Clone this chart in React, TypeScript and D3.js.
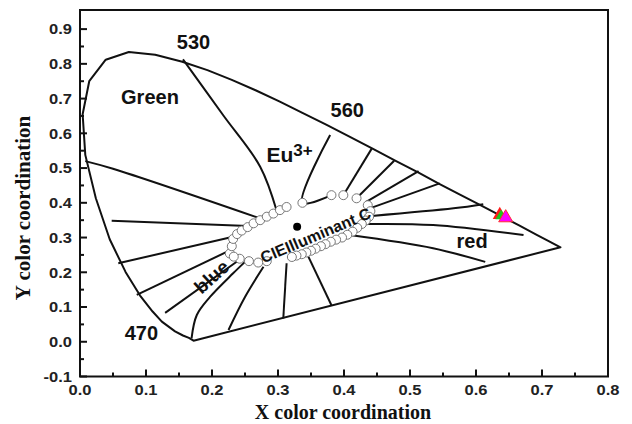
import React, { useEffect, useRef } from 'react';
import * as d3 from 'd3';

// spectral locus (closed by the purple line)
const locusX = [0.172, 0.165, 0.156, 0.144, 0.124, 0.110, 0.091, 0.069, 0.045, 0.024, 0.008, 0.004, 0.014, 0.039, 0.074, 0.114, 0.155, 0.193, 0.230, 0.266, 0.302, 0.337, 0.373, 0.409, 0.444, 0.479, 0.513, 0.545, 0.575, 0.603, 0.627, 0.666, 0.692, 0.708, 0.728];
const locusY = [0.003, 0.011, 0.018, 0.030, 0.058, 0.087, 0.133, 0.201, 0.295, 0.413, 0.538, 0.655, 0.750, 0.812, 0.834, 0.826, 0.806, 0.782, 0.754, 0.724, 0.692, 0.659, 0.625, 0.590, 0.555, 0.520, 0.487, 0.454, 0.424, 0.397, 0.373, 0.334, 0.308, 0.292, 0.272];

// dominant wavelength lines, each is a list of [x, y]
const rayLines: [number, number][][] = [
  [[0.156, 0.813], [0.217, 0.652], [0.273, 0.504], [0.298, 0.377]],
  [[0.379, 0.595], [0.337, 0.400], [0.381, 0.422]],
  [[0.442, 0.556], [0.399, 0.422]],
  [[0.476, 0.521], [0.419, 0.413]],
  [[0.513, 0.491], [0.433, 0.402]],
  [[0.545, 0.456], [0.439, 0.384]],
  [[0.442, 0.362], [0.566, 0.384], [0.611, 0.396]],
  [[0.434, 0.339], [0.535, 0.336], [0.672, 0.307]],
  [[0.409, 0.307], [0.535, 0.269], [0.614, 0.230]],
  [[0.381, 0.105], [0.346, 0.245]],
  [[0.308, 0.067], [0.313, 0.226]],
  [[0.225, 0.034], [0.250, 0.129], [0.278, 0.216]],
  [[0.169, 0.010], [0.177, 0.077], [0.197, 0.129], [0.232, 0.197], [0.250, 0.230]],
  [[0.129, 0.083], [0.240, 0.234]],
  [[0.086, 0.135], [0.227, 0.263]],
  [[0.058, 0.226], [0.232, 0.302]],
  [[0.048, 0.348], [0.255, 0.333]],
  [[0.008, 0.520], [0.050, 0.498], [0.276, 0.353]],
];

// open circles round the white point
const ringX = [0.227, 0.230, 0.232, 0.238, 0.245, 0.254, 0.263, 0.273, 0.283, 0.293, 0.303, 0.313, 0.337, 0.381, 0.399, 0.419, 0.436, 0.440, 0.438, 0.433, 0.427, 0.420, 0.413, 0.405, 0.397, 0.388, 0.380, 0.372, 0.365, 0.357, 0.350, 0.343, 0.336, 0.328, 0.321, 0.283, 0.270, 0.256, 0.242, 0.233];
const ringY = [0.254, 0.275, 0.296, 0.310, 0.320, 0.330, 0.341, 0.350, 0.360, 0.369, 0.379, 0.388, 0.400, 0.422, 0.422, 0.413, 0.393, 0.376, 0.360, 0.349, 0.339, 0.328, 0.317, 0.308, 0.300, 0.294, 0.288, 0.281, 0.275, 0.268, 0.262, 0.257, 0.252, 0.248, 0.244, 0.232, 0.228, 0.232, 0.239, 0.245];

const whitePoint: [number, number] = [0.329, 0.331];

// sample markers
const sampleX = [0.636, 0.638, 0.645];
const sampleY = [0.365, 0.362, 0.357];
const sampleColors = ['#ff1a1a', '#1fc41f', '#ff00ff'];

// text on the plot
const labelText = ['530', 'Green', '560', 'red', '470', 'blue', 'CIEIlluminant C'];
const labelX = [0.172, 0.106, 0.405, 0.594, 0.093, 0.1995, 0.357];
const labelY = [0.863, 0.705, 0.667, 0.290, 0.024, 0.187, 0.306];

const xTicks = [0, 0.1, 0.2, 0.3, 0.4, 0.5, 0.6, 0.7, 0.8];
const yTicks = [-0.1, 0, 0.1, 0.2, 0.3, 0.4, 0.5, 0.6, 0.7, 0.8, 0.9];

const W = 632, H = 424;
const left = 80, right = 608, top = 10, bottom = 376.5;
const sans = "Arial, 'Liberation Sans', sans-serif";
const serif = "'Times New Roman', 'Liberation Serif', serif";

const App: React.FC = () => {
  const ref = useRef<SVGSVGElement>(null);

  useEffect(() => {
    const svg = d3.select(ref.current);
    svg.selectAll('*').remove();

    const x = d3.scaleLinear().domain([0, 0.8]).range([left, right]);
    const y = d3.scaleLinear().domain([-0.1, 0.955]).range([bottom, top]);

    const line = d3.line<[number, number]>().x(d => x(d[0])).y(d => y(d[1]));
    const curve = d3.line<[number, number]>().x(d => x(d[0])).y(d => y(d[1])).curve(d3.curveCatmullRom.alpha(0.5));

    // locus
    const locus = locusX.map((v, i) => [v, locusY[i]] as [number, number]);
    svg.append('path')
      .attr('d', line(locus) + 'Z')
      .attr('fill', 'none')
      .attr('stroke', '#111')
      .attr('stroke-width', 2)
      .attr('stroke-linejoin', 'round');

    rayLines.forEach(pts => {
      svg.append('path')
        .attr('d', curve(pts))
        .attr('fill', 'none')
        .attr('stroke', '#111')
        .attr('stroke-width', 2);
    });

    ringX.forEach((v, i) => {
      svg.append('circle')
        .attr('cx', x(v))
        .attr('cy', y(ringY[i]))
        .attr('r', 4.5)
        .attr('fill', '#fff')
        .attr('stroke', '#777')
        .attr('stroke-width', 1);
    });

    svg.append('circle')
      .attr('cx', x(whitePoint[0]))
      .attr('cy', y(whitePoint[1]))
      .attr('r', 4)
      .attr('fill', '#000');

    const tri = d3.symbol().type(d3.symbolTriangle);
    const sizes = [85, 55, 85];
    sampleX.forEach((v, i) => {
      svg.append('path')
        .attr('d', tri.size(sizes[i])())
        .attr('transform', `translate(${x(v)},${y(sampleY[i])})`)
        .attr('fill', sampleColors[i])
        .attr('stroke', i === 2 ? '#ff3030' : 'none')
        .attr('stroke-width', 1);
    });

    // labels
    labelText.forEach((t, i) => {
      const px = x(labelX[i]), py = y(labelY[i]);
      let rot = 0, size = 20;
      if (t === 'blue') { rot = -42; size = 19; }
      if (t === 'CIEIlluminant C') { rot = -23; size = 16; }
      svg.append('text')
        .attr('transform', `translate(${px},${py}) rotate(${rot})`)
        .attr('text-anchor', 'middle')
        .attr('dominant-baseline', 'central')
        .style('font-family', sans)
        .style('font-weight', 'bold')
        .style('font-size', size + 'px')
        .attr('fill', '#111')
        .text(t);
    });

    const eu = svg.append('text')
      .attr('x', x(0.2826))
      .attr('y', y(0.518))
      .style('font-family', sans)
      .style('font-weight', 'bold')
      .style('font-size', '21px')
      .attr('fill', '#111');
    eu.append('tspan').text('Eu');
    eu.append('tspan').attr('dy', -6).style('font-size', '17px').text('3+');

    // frame
    svg.append('rect')
      .attr('x', left).attr('y', top)
      .attr('width', right - left).attr('height', bottom - top)
      .attr('fill', 'none')
      .attr('stroke', '#111')
      .attr('stroke-width', 2);

    // ticks (pointing in)
    const minorX = d3.range(0.05, 0.8, 0.1);
    const minorY = d3.range(-0.05, 0.9, 0.1);
    xTicks.forEach(t => {
      svg.append('line').attr('x1', x(t)).attr('x2', x(t)).attr('y1', bottom).attr('y2', bottom - 7)
        .attr('stroke', '#111').attr('stroke-width', 2);
      svg.append('text')
        .attr('transform', `translate(${x(t)},395) scale(1.1,1)`)
        .attr('text-anchor', 'middle')
        .style('font-family', sans).style('font-weight', 'bold').style('font-size', '15px')
        .attr('fill', '#222')
        .text(t.toFixed(1));
    });
    minorX.forEach(t => {
      svg.append('line').attr('x1', x(t)).attr('x2', x(t)).attr('y1', bottom).attr('y2', bottom - 4)
        .attr('stroke', '#111').attr('stroke-width', 2);
    });
    yTicks.forEach(t => {
      svg.append('line').attr('x1', left).attr('x2', left + 7).attr('y1', y(t)).attr('y2', y(t))
        .attr('stroke', '#111').attr('stroke-width', 2);
      svg.append('text')
        .attr('transform', `translate(72,${y(t)}) scale(1.1,1)`)
        .attr('text-anchor', 'end')
        .attr('dominant-baseline', 'central')
        .style('font-family', sans).style('font-weight', 'bold').style('font-size', '15px')
        .attr('fill', '#222')
        .text(t.toFixed(1));
    });
    minorY.forEach(t => {
      svg.append('line').attr('x1', left).attr('x2', left + 4).attr('y1', y(t)).attr('y2', y(t))
        .attr('stroke', '#111').attr('stroke-width', 2);
    });

    // axis titles
    svg.append('text')
      .attr('x', (left + right) / 2 - 1)
      .attr('y', 419)
      .attr('text-anchor', 'middle')
      .style('font-family', serif).style('font-weight', 'bold').style('font-size', '20px')
      .attr('fill', '#111')
      .text('X color coordination');

    svg.append('text')
      .attr('transform', 'translate(30,208) rotate(-90)')
      .attr('text-anchor', 'middle')
      .style('font-family', serif).style('font-weight', 'bold').style('font-size', '21px')
      .attr('fill', '#111')
      .text('Y color coordination');
  }, []);

  return (
    <svg ref={ref} width={W} height={H}
      style={{ position: 'absolute', left: 0, top: 0, background: '#fff' }} />
  );
};

export default App;
